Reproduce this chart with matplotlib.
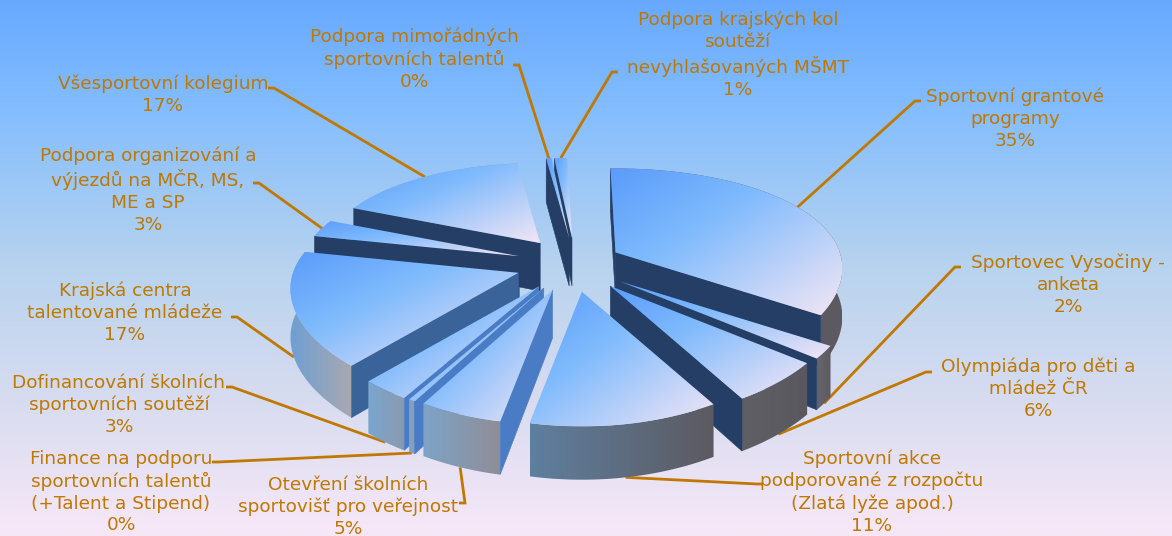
import matplotlib

matplotlib.use("Agg")

import matplotlib.pyplot as plt
import numpy as np
from matplotlib.colors import LinearSegmentedColormap
from matplotlib.patches import Polygon
from matplotlib.path import Path

# clockwise from 12 o'clock
categories = [
    "Sportovní grantové\nprogramy",
    "Sportovec Vysočiny -\nanketa",
    "Olympiáda pro děti a\nmládež ČR",
    "Sportovní akce\npodporované z rozpočtu\n(Zlatá lyže apod.)",
    "Otevření školních\nsportovišť pro veřejnost",
    "Finance na podporu\nsportovních talentů\n(+Talent a Stipend)",
    "Dofinancování školních\nsportovních soutěží",
    "Krajská centra\ntalentované mládeže",
    "Podpora organizování a\nvýjezdů na MČR, MS,\nME a SP",
    "Všesportovní kolegium",
    "Podpora mimořádných\nsportovních talentů",
    "Podpora krajských kol\nsoutěží\nnevyhlašovaných MŠMT",
]
values = [34.5, 1.8, 5.8, 11.4, 5.0, 0.4, 2.9, 17.0, 2.9, 16.7, 0.45, 1.1]

# label centre, leader elbow and how far down the rim the leader lands (0..1)
label_xy = [(1015, 119), (1068, 285), (1038, 389), (872, 492), (348, 507), (121, 492),
            (119, 405), (125, 313), (148, 190), (163, 95), (414, 59), (738, 55)]
elbow_xy = [(915, 101), (955, 267), (926, 372), (757, 484), (465, 503), (218, 462),
            (232, 387), (237, 317), (259, 183), (274, 88), (519, 65), (612, 72)]
leader_depth = [0, 1, 1, 1, 1, 1, 1, 1, 0, 0, 0, 0]
explode_x = [47, 58, 58, 58, 58, 58, 58, 58, 58, 58, 58, 58]
radius_scale = [0.975, 1, 1, 1, 1, 1, 1, 0.98, 0.94, 0.93, 0.93, 0.93]
side_colors = ["#243e66", "#243e66", "#243e66", "#243e66", "#4a7cc6", "#4a7cc6",
               "#4a7cc6", "#3a6399", "#243e66", "#243e66", "#243e66", "#243e66"]
rim_left = ["#66666c", "#66666c", "#5f5f66", "#5f7f9f", "#7ea3c8", "#7ea3c8",
            "#7aa6d0", "#6f9fd2", "#7aa6d0", "#8ab0d8", "#8ab0d8", "#8ab0d8"]
rim_right = ["#5c5a60", "#5c5a60", "#5a585e", "#5c5a60", "#8e8e98", "#8e9ab0",
             "#8a9ab0", "#a8a8b0", "#8a9ab0", "#8a9ab0", "#8a9ab0", "#8a9ab0"]

TEXT_COLOR = "#bf7800"
LEADER_COLOR = "#c07800"
CX, CY = 574, 265
ROTATION = -1.5


def project(theta, apex, scale=1.0):
    u = np.sin(np.radians(theta))
    v = np.cos(np.radians(theta))
    x = apex[0] + scale * 230 * u / (1 + 0.15 * v)
    y = apex[1] - scale * 105 * v / (1 + 0.22 * v)
    return x, y


def thickness(theta):
    return 48 / (1 + 0.1 * np.cos(np.radians(theta)))


def fill_gradient(ax, pts, array, zorder):
    pts = np.asarray(pts)
    extent = (pts[:, 0].min(), pts[:, 0].max(), pts[:, 1].max(), pts[:, 1].min())
    im = ax.imshow(array, extent=extent, aspect="auto", zorder=zorder, interpolation="bilinear")
    im.set_clip_path(Path(np.vstack([pts, pts[:1]])), transform=ax.transData)
    return im


def cross(a, b):
    return a[0] * b[1] - a[1] * b[0]


fig = plt.figure(figsize=(11.72, 5.36), dpi=100)
ax = fig.add_axes([0, 0, 1, 1])

bg_cmap = LinearSegmentedColormap.from_list(
    "bg", [(0, "#68a9ff"), (0.2, "#83bdfe"), (0.5, "#b8d3ee"), (0.75, "#d8dcf0"), (1, "#f7e8f8")]
)
top_cmap = LinearSegmentedColormap.from_list(
    "top", [(0, "#5b9cfb"), (0.38, "#7ebafd"), (1, "#f2e6f5")]
)
ax.imshow(bg_cmap(np.linspace(0, 1, 256))[:, None, :], extent=(0, 1172, 536, 0), aspect="auto", zorder=0)

total = sum(values)
edges = np.cumsum([0] + values) / total * 360
wedges = []
for i, value in enumerate(values):
    t0, t1 = edges[i] + ROTATION, edges[i + 1] + ROTATION
    mid = np.radians((edges[i] + edges[i + 1]) / 2)
    apex = (CX + explode_x[i] * np.sin(mid), CY - 27 * np.cos(mid))
    wedges.append((i, t0, t1, apex, np.cos(mid)))

# leaders sit behind the pie
for i, t0, t1, apex, _ in wedges:
    tm = (t0 + t1) / 2
    ax_, ay_ = project(tm, apex, radius_scale[i])
    ay_ += leader_depth[i] * thickness(tm)
    ex, ey = elbow_xy[i]
    stub = -6 if label_xy[i][0] < ex else 6
    ax.plot([ex + stub, ex, ax_], [ey, ey, ay_], color=LEADER_COLOR, lw=2.0, zorder=1,
            solid_joinstyle="miter", solid_capstyle="butt")
    pct = f"{int(values[i] + 0.5)}%"
    ax.text(label_xy[i][0], label_xy[i][1], f"{categories[i]}\n{pct}", ha="center", va="center",
            color=TEXT_COLOR, fontsize=13.3, family="DejaVu Sans", linespacing=1.27, zorder=30)

# paint back to front
z = 2
for i, t0, t1, apex, depth in sorted(wedges, key=lambda w: -w[4]):
    thetas = np.linspace(t0, t1, 60)
    rim = np.array([project(t, apex, radius_scale[i]) for t in thetas])
    drop = np.array([thickness(t) for t in thetas])
    rim_low = rim + np.column_stack([np.zeros(len(rim)), drop])
    ap = np.array(apex)
    ap_low = ap + [0, 48]

    side = np.vstack([rim, rim_low[::-1]])
    rim_cmap = LinearSegmentedColormap.from_list("rim", [rim_left[i], rim_right[i]])
    fill_gradient(ax, side, rim_cmap(np.linspace(0, 1, 64))[None, :, :], z)
    z += 1

    # only the cut faces that turn towards the viewer
    inner = rim[30] - ap
    for end, low in ((rim[0], rim_low[0]), (rim[-1], rim_low[-1])):
        edge = end - ap
        if cross(edge, (0, 1)) * cross(edge, inner) < 0:
            ax.add_patch(Polygon([ap, end, low, ap_low], closed=True, facecolor=side_colors[i],
                                 edgecolor=side_colors[i], lw=0.4, zorder=z))
            z += 1

    top = np.vstack([ap, rim])
    gx, gy = np.meshgrid(np.linspace(0, 1, 64), np.linspace(0, 1, 64))
    fill_gradient(ax, top, top_cmap(0.5 * gx + 0.5 * gy), z)
    z += 1

ax.set_xlim(0, 1172)
ax.set_ylim(536, 0)
ax.axis("off")
fig.savefig("out.png", dpi=100)
plt.close(fig)
